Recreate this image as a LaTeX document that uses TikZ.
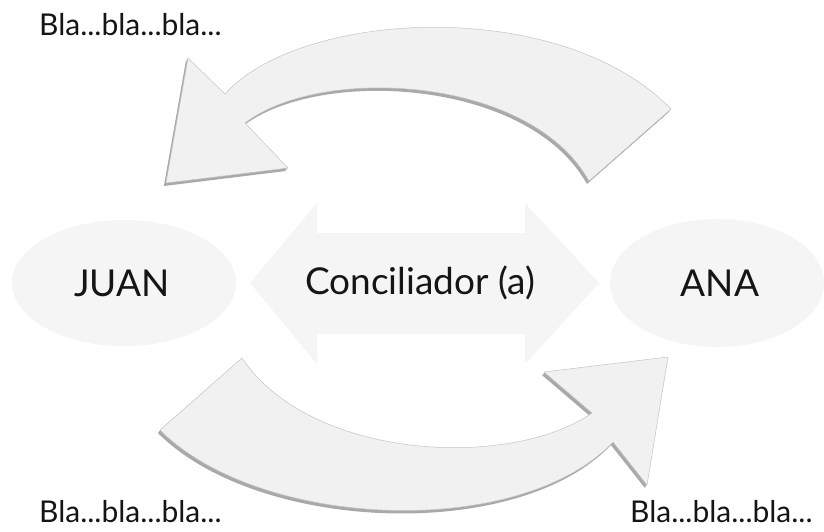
\documentclass[tikz,border=0pt]{standalone}
\usepackage{fontspec}
\setmainfont{Lato}
\usetikzlibrary{shapes.geometric}
\definecolor{arrowfill}{HTML}{F1F1F1}
\definecolor{arrowedge}{HTML}{C4C4C4}
\definecolor{shadowcol}{HTML}{A9A9A9}
\definecolor{softfill}{HTML}{F5F5F5}
\definecolor{ink}{HTML}{151515}
\tikzset{
  bigarrow/.style={fill=arrowfill, draw=arrowedge, line width=0.5pt, line join=round},
  arrowshade/.style={fill=shadowcol, draw=none},
  softshape/.style={fill=softfill, draw=none},
  blatext/.style={font=\fontsize{30}{34}\selectfont, text=ink, inner sep=0pt},
  nametext/.style={font=\fontsize{37}{42}\selectfont, text=ink, inner sep=0pt},
}
\begin{document}
\begin{tikzpicture}[x=1pt,y=-1pt]
\useasboundingbox[fill=white] (0,0) rectangle (824,531);

% soft background shapes
\node[softshape, ellipse, minimum width=224pt, minimum height=126pt] (juanbg) at (124,283) {};
\node[softshape, ellipse, minimum width=214pt, minimum height=128pt] (anabg) at (717,283) {};
\path[softshape] (250,283) -- (317,203) -- (317,233) -- (525,233) -- (525,203) -- (599,283)
  -- (525,364) -- (525,334) -- (317,334) -- (317,364) -- cycle;

% top curved arrow (towards JUAN)
\foreach \s in {1,2,3}{
  \path[arrowshade, shift={(-0.7*\s,1*\s)}]
    (166,183) -- (188,58) -- (225,94)
    .. controls (300,10) and (560,-5) .. (671,109)
    -- (589,181)
    .. controls (530,75) and (320,65) .. (245,123)
    -- (288,168) -- cycle;
}
\path[bigarrow]
    (166,183) -- (188,58) -- (225,94)
    .. controls (300,10) and (560,-5) .. (671,109)
    -- (589,181)
    .. controls (530,75) and (320,65) .. (245,123)
    -- (288,168) -- cycle;

% bottom curved arrow (towards ANA)
\foreach \s in {1,2,3}{
  \path[arrowshade, shift={(-0.7*\s,1*\s)}]
    (160,430) -- (242,358)
    .. controls (310,460) and (510,470) .. (592,413)
    -- (544,372) -- (668,357) -- (647,485) -- (613,442)
    .. controls (520,540) and (260,530) .. (160,430) -- cycle;
}
\path[bigarrow]
    (160,430) -- (242,358)
    .. controls (310,460) and (510,470) .. (592,413)
    -- (544,372) -- (668,357) -- (647,485) -- (613,442)
    .. controls (520,540) and (260,530) .. (160,430) -- cycle;

% texts
\node[blatext, anchor=west] (tl) at (39,25) {Bla...bla...bla...};
\node[blatext, anchor=west] (bl) at (39,512) {Bla...bla...bla...};
\node[blatext, anchor=west] (br) at (630,512) {Bla...bla...bla...};
\node[nametext] (juan) at (122,283) {JUAN};
\node[nametext] (conc) at (420,283) {Conciliador (a)};
\node[nametext] (ana) at (720,283) {ANA};
\end{tikzpicture}
\end{document}
